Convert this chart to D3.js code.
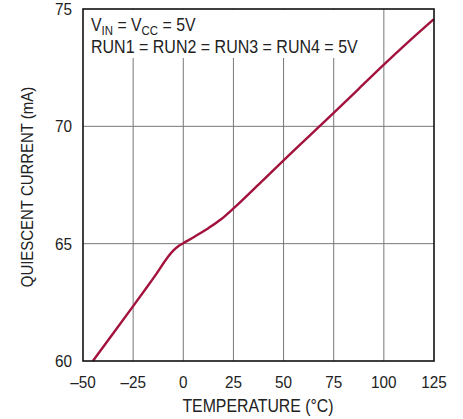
<!DOCTYPE html>
<html><head><meta charset="utf-8">
<script src="https://cdn.jsdelivr.net/npm/d3@7"></script>
<style>body{margin:0;background:#fff}svg text{font-family:"Liberation Sans",Arial,sans-serif;fill:#222}</style>
</head><body>
<svg id="c" width="463" height="419"></svg>
<script>
const temps  = [-45.1, -35, -25, -15, -5, -2, 0, 6, 12.5, 19, 25, 37.5, 50, 62.5, 75, 87.5, 100, 112.5, 125];
const current = [60.0, 61.17, 62.34, 63.52, 64.7, 64.92, 65.02, 65.32, 65.66, 66.05, 66.5, 67.52, 68.55, 69.56, 70.57, 71.6, 72.63, 73.62, 74.57];
const xTicks = [-50, -25, 0, 25, 50, 75, 100, 125];
const yTicks = [60, 65, 70, 75];

const svg = d3.select("#c");
const L = 83, R = 434, T = 9, B = 361;
const x = d3.scaleLinear().domain([-50, 125]).range([L, R]);
const y = d3.scaleLinear().domain([60, 75]).range([B, T]);

function ctext(px, py, size, sx, rot) {
  const g = svg.append("g").attr("transform", `translate(${px},${py})` + (rot ? ` rotate(${rot})` : "") + ` scale(${sx},1)`);
  return g.append("text").attr("font-size", size);
}

// grid
svg.append("g").selectAll("line").data(xTicks.slice(1, -1)).join("line")
  .attr("x1", d => x(d)).attr("x2", d => x(d)).attr("y1", T).attr("y2", B)
  .attr("stroke", "#777").attr("stroke-width", 1);
svg.append("g").selectAll("line").data(yTicks.slice(1, -1)).join("line")
  .attr("x1", L).attr("x2", R).attr("y1", d => y(d)).attr("y2", d => y(d))
  .attr("stroke", "#777").attr("stroke-width", 1);

// annotation background
svg.append("rect").attr("x", L + 1).attr("y", T + 1).attr("width", 282).attr("height", 48).attr("fill", "#fff");
const ann = ctext(91, 31, 18, 0.88);
ann.append("tspan").text("V");
ann.append("tspan").text("IN").attr("font-size", 13).attr("dy", 4);
ann.append("tspan").text(" = V").attr("dy", -4);
ann.append("tspan").text("CC").attr("font-size", 13).attr("dy", 4);
ann.append("tspan").text(" = 5V").attr("dy", -4);
ctext(91, 53, 18, 0.89).text("RUN1 = RUN2 = RUN3 = RUN4 = 5V");

// line
svg.append("path").datum(temps.map((t, i) => [t, current[i]]))
  .attr("d", d3.line().x(d => x(d[0])).y(d => y(d[1])).curve(d3.curveMonotoneX))
  .attr("fill", "none").attr("stroke", "#a3123c").attr("stroke-width", 2.4);

// frame
svg.append("rect").attr("x", L).attr("y", T).attr("width", R - L).attr("height", B - T)
  .attr("fill", "none").attr("stroke", "#111").attr("stroke-width", 1.6);

// tick labels
xTicks.forEach(d => ctext(x(d), 388, 17, 0.9).attr("text-anchor", "middle")
  .text(d < 0 ? "\u2013" + Math.abs(d) : d));
yTicks.forEach(d => ctext(72, y(d) + 6, 17, 0.9).attr("text-anchor", "end").text(d));

// axis titles
ctext(258, 412, 18, 0.88).attr("text-anchor", "middle").text("TEMPERATURE (\u00B0C)");
ctext(33, 187, 17, 0.88, -90).attr("text-anchor", "middle").text("QUIESCENT CURRENT (mA)");
</script>
</body></html>
